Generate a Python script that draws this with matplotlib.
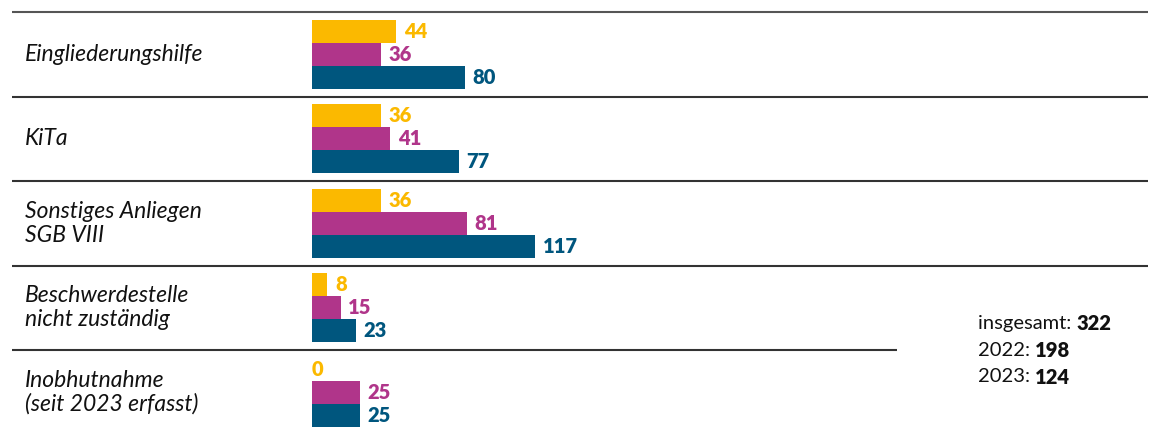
import matplotlib
matplotlib.use("Agg")
import matplotlib.pyplot as plt

categories = ["Eingliederungshilfe", "KiTa", "Sonstiges Anliegen\nSGB VIII",
              "Beschwerdestelle\nnicht zuständig", "Inobhutnahme\n(seit 2023 erfasst)"]
vals_2023 = [44, 36, 36, 8, 0]
vals_2022 = [36, 41, 81, 15, 25]
vals_total = [80, 77, 117, 23, 25]
summary_labels = ["insgesamt:", "2022:", "2023:"]
summary_values = ["322", "198", "124"]

colors = ["#FBB900", "#B0358A", "#00567E"]

W, H = 1166, 428
fig = plt.figure(figsize=(W / 100, H / 100), dpi=100)
plt.rcParams['font.family'] = ['Lato', 'DejaVu Sans']

# bar axes in pixel-calibrated placement
x0 = 312
px_per_unit = 1.91
slot = 84.5
top = 12
ax = fig.add_axes([x0 / W, 0, 1 - x0 / W, (H - top) / H])
ax.set_xlim(0, (W - x0) / px_per_unit)
nslots = (H - top) / slot
ax.set_ylim(-0.5 + nslots, -0.5)
ax.axis("off")

bh = 23 / slot
series = [vals_2023, vals_2022, vals_total]
offsets = [-bh, 0, bh]
for s, off, c in zip(series, offsets, colors):
    ys = [i + off for i in range(len(categories))]
    ax.barh(ys, s, height=bh, color=c, align="center")
    for y, v in zip(ys, s):
        ax.annotate(str(v), xy=(v, y), xytext=(5.5 if v else 0, 0), textcoords="offset points",
                    ha="left", va="center", fontsize=14.5, fontweight="heavy", color=c)

# category labels
for i, cat in enumerate(categories):
    ax.annotate(cat, xy=(0, i), xycoords=("figure fraction", "data"),
                xytext=(25 / W, 0), textcoords=("figure fraction", "offset points"),
                ha="left", va="center", fontsize=16.5, style="italic", color="#111111",
                linespacing=1.15)

# separator lines (overlay axes in pixel coords)
ov = fig.add_axes([0, 0, 1, 1], facecolor="none")
ov.set_xlim(0, W)
ov.set_ylim(H, 0)
ov.axis("off")
line_ys = [top + slot * k for k in range(5)]
for k, y in enumerate(line_ys):
    xe = 897 if k == 4 else 1148
    ov.plot([12, xe], [y, y], color="#333333" if k else "#555555", lw=1.5, solid_capstyle="butt")

# summary text
for j, (lab, val) in enumerate(zip(summary_labels, summary_values)):
    t = ov.text(978, 324 + 26.5 * j, lab + " ", ha="left", va="center", fontsize=14.5, color="#111111")
    ov.annotate(val, xy=(1, 0.5), xycoords=t, ha="left", va="center",
                fontsize=14.5, fontweight="heavy", color="#111111")

fig.savefig("out.png", dpi=100)
